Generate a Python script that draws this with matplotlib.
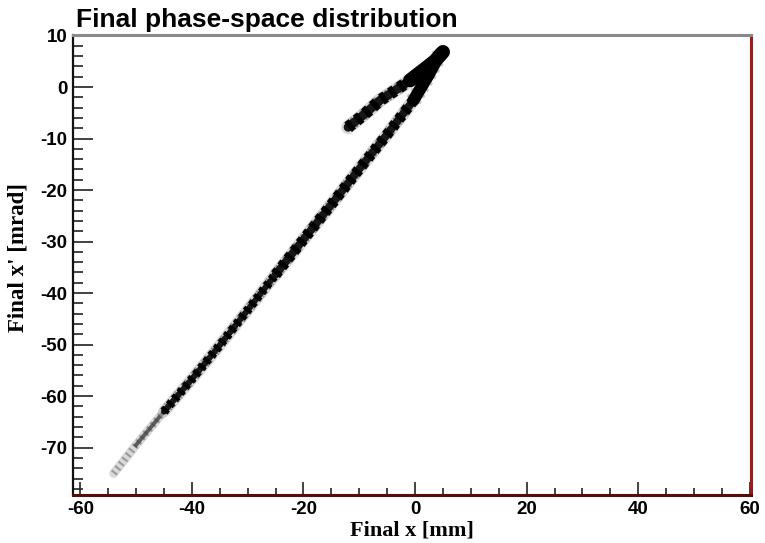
import matplotlib
matplotlib.use("Agg")
import matplotlib.pyplot as plt
from matplotlib.ticker import MultipleLocator

# Centre line of the main (long) branch of the distribution: x [mm], x' [mrad]
main_x = [-54.0, -50.0, -45.0, -40.0, -35.5, -30.0, -25.0, -20.0, -15.0, -10.0, -5.0, -0.3, 2.5, 4.5]
main_y = [-75.0, -69.5, -63.0, -56.7, -50.8, -43.3, -36.4, -29.6, -22.8, -15.9, -9.2, -2.6, 2.5, 6.5]

# Centre line of the short upper branch
upper_x = [-12.0, -9.0, -6.3, -3.5, -0.9, 1.5, 3.5, 5.0]
upper_y = [-7.8, -5.2, -2.6, -0.6, 1.3, 3.3, 5.0, 6.8]

x_ticks = [-60, -40, -20, 0, 20, 40, 60]
y_ticks = [-70, -60, -50, -40, -30, -20, -10, 0, 10]
x_range = (-61.3, 60.2)
y_range = (-79.2, 10.1)

PX = 0.72  # points per pixel at 100 dpi

fig = plt.figure(figsize=(7.65, 5.43), dpi=100)
ax = fig.add_axes([73 / 765, 48 / 543, (751 - 73) / 765, (495 - 35) / 543])


def draw_band(xs, ys, core_px, halo_px):
    # soft speckled edge
    ax.plot(xs, ys, color="#b4b4b4", lw=halo_px * PX, alpha=0.5,
            solid_capstyle="round", zorder=2)
    ax.plot(xs, ys, color="#505050", lw=(halo_px - 2) * PX, alpha=0.5,
            dashes=(0.22, 0.3), zorder=2)
    # dense core
    ax.plot(xs, ys, color="#161616", lw=core_px * PX,
            solid_capstyle="round", zorder=3)
    # periodic clumps along the band
    ax.plot(xs, ys, color="black", lw=(core_px + 3) * PX,
            dashes=(0.45, 0.45), zorder=3)


# faint, sparse lower tail of the main branch
ax.plot(main_x[:3], main_y[:3], color="#c0c0c0", lw=9 * PX, alpha=0.6,
        solid_capstyle="round", zorder=2)
ax.plot(main_x[:3], main_y[:3], color="#808080", lw=7 * PX, alpha=0.7,
        dashes=(0.3, 0.5), zorder=2)
ax.plot(main_x[1:4], main_y[1:4], color="#404040", lw=4 * PX, alpha=0.8,
        zorder=2)
draw_band(main_x[2:7], main_y[2:7], core_px=6, halo_px=12)
draw_band(main_x[6:], main_y[6:], core_px=8, halo_px=13)
draw_band(upper_x, upper_y, core_px=9, halo_px=14)

# dense head where the two branches meet
ax.plot(main_x[-3:], main_y[-3:], color="#909090", lw=16 * PX, alpha=0.5,
        dashes=(0.2, 0.25), zorder=3)
ax.plot(main_x[-3:], main_y[-3:], color="black", lw=12 * PX,
        solid_capstyle="round", zorder=4)
ax.plot(upper_x[-4:], upper_y[-4:], color="black", lw=14 * PX,
        solid_capstyle="round", zorder=4)

ax.set_xlim(*x_range)
ax.set_ylim(*y_range)
ax.set_xticks(x_ticks)
ax.set_yticks(y_ticks)
ax.xaxis.set_minor_locator(MultipleLocator(5))
ax.yaxis.set_minor_locator(MultipleLocator(2))

tick_font = dict(family="Liberation Sans", weight="bold", size=13.5)
ax.set_xticklabels([str(v) for v in x_ticks], fontdict=tick_font)
ax.set_yticklabels([str(v) for v in y_ticks], fontdict=tick_font)

ax.tick_params(axis="x", which="major", direction="in", length=13 * PX,
               width=1.2, pad=4.5, top=False, color="#222222")
ax.tick_params(axis="x", which="minor", direction="in", length=7 * PX,
               width=1.2, top=False, color="#222222")
ax.tick_params(axis="y", which="major", direction="in", length=20 * PX,
               width=1.2, pad=4, right=False, color="#222222")
ax.tick_params(axis="y", which="minor", direction="in", length=10 * PX,
               width=1.2, right=False, color="#222222")

ax.spines["left"].set_color("#111111")
ax.spines["left"].set_linewidth(1.6)
ax.spines["bottom"].set_color("#5a0c0c")
ax.spines["bottom"].set_linewidth(2.2)
ax.spines["right"].set_color("#a01818")
ax.spines["right"].set_linewidth(2.2)
ax.spines["top"].set_color("#8a8a8a")
ax.spines["top"].set_linewidth(2.2)

fig.text(76 / 765, 1 - 27 / 543, "Final phase-space distribution",
         family="Liberation Sans", weight="bold", size=19, ha="left",
         va="baseline")
fig.text(412 / 765, 1 - 536 / 543, "Final x [mm]",
         family="Liberation Serif", weight="bold", size=16, ha="center",
         va="baseline")
fig.text(18 / 765, 1 - 257 / 543, "Final x' [mrad]",
         family="Liberation Serif", weight="bold", size=16.5, ha="center",
         va="center", rotation=90)

fig.savefig("out.png", dpi=100)
